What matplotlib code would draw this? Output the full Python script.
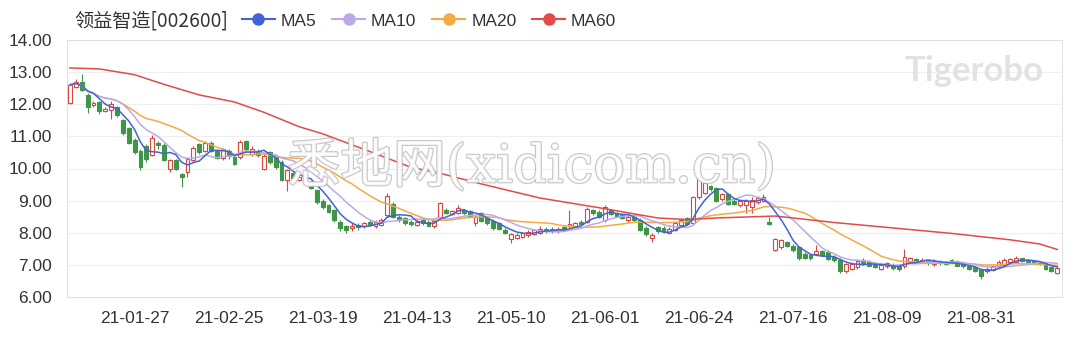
import matplotlib
matplotlib.use("Agg")
import matplotlib.pyplot as plt
import matplotlib.patheffects as pe
from matplotlib.lines import Line2D
from matplotlib.patches import Rectangle
import numpy as np
import pandas as pd

# ---------------- data ----------------
opens = [12.05, 12.55, 12.70, 12.30, 11.98, 12.07, 11.80, 11.82, 11.92, 11.50,
         11.25, 10.90, 10.55, 10.70, 10.42, 10.80, 10.72, 9.97, 10.25, 9.82,
         9.90, 10.25, 10.75, 10.55, 10.80, 10.55, 10.32, 10.55, 10.35, 10.35,
         10.85, 10.45, 10.55, 10.00, 10.50, 10.40, 10.20, 9.65, 9.85, 9.65,
         9.80, 9.58, 9.33, 9.00, 8.85, 8.70, 8.33, 8.20, 8.15, 8.25,
         8.20, 8.35, 8.20, 8.25, 8.55, 8.90, 8.50, 8.45, 8.35, 8.25,
         8.40, 8.35, 8.20, 8.50, 8.72, 8.58, 8.62, 8.72, 8.68, 8.30,
         8.60, 8.45, 8.38, 8.30, 8.10, 7.82, 7.85, 7.88, 7.92, 7.95,
         8.00, 8.12, 8.12, 8.05, 8.18, 8.20, 8.22, 8.35, 8.35, 8.70,
         8.65, 8.40, 8.70, 8.62, 8.55, 8.40, 8.48, 8.40, 8.15, 7.85,
         8.18, 8.15, 8.00, 8.10, 8.25, 8.45, 8.30, 9.10, 9.25, 9.45,
         9.38, 9.05, 9.20, 9.00, 8.85, 8.85, 8.80, 8.95, 9.00, 8.32,
         7.46, 7.55, 7.70, 7.60, 7.55, 7.35, 7.30, 7.35, 7.42, 7.40,
         7.25, 7.15, 6.82, 6.88, 6.92, 7.15, 7.10, 7.05, 6.88, 6.95,
         7.00, 6.98, 6.95, 7.08, 7.18, 7.08, 7.12, 7.02, 7.10, 7.08,
         7.15, 7.10, 7.02, 6.95, 6.92, 6.88, 6.80, 6.85, 6.95, 7.00,
         7.08, 7.10, 7.20, 7.15, 7.12, 7.10, 7.05, 6.92, 6.75]
closes = [12.60, 12.70, 12.45, 11.90, 12.05, 11.78, 11.85, 12.00, 11.65, 11.10,
          10.80, 10.52, 10.05, 10.30, 10.95, 10.72, 10.28, 10.25, 9.97, 9.75,
          10.30, 10.65, 10.50, 10.80, 10.55, 10.32, 10.60, 10.38, 10.15, 10.82,
          10.60, 10.60, 10.42, 10.40, 10.20, 10.05, 9.65, 9.95, 9.70, 9.75,
          9.60, 9.40, 8.95, 8.80, 8.65, 8.40, 8.15, 8.10, 8.22, 8.18,
          8.30, 8.25, 8.35, 8.40, 9.15, 8.50, 8.40, 8.30, 8.28, 8.32,
          8.30, 8.22, 8.38, 8.92, 8.62, 8.68, 8.78, 8.60, 8.52, 8.50,
          8.38, 8.30, 8.15, 8.12, 7.98, 7.95, 7.92, 7.98, 8.03, 8.08,
          8.12, 8.05, 8.05, 8.12, 8.10, 8.28, 8.30, 8.28, 8.75, 8.60,
          8.50, 8.80, 8.58, 8.52, 8.45, 8.50, 8.40, 8.10, 7.95, 7.92,
          8.05, 8.05, 8.12, 8.30, 8.40, 8.28, 9.10, 9.72, 9.55, 9.35,
          9.00, 9.20, 8.90, 8.90, 9.00, 9.00, 9.02, 9.07, 9.12, 8.28,
          7.80, 7.78, 7.58, 7.45, 7.20, 7.22, 7.20, 7.42, 7.32, 7.18,
          7.15, 6.80, 7.02, 7.02, 7.12, 7.05, 6.98, 6.92, 7.00, 7.05,
          6.90, 6.88, 7.25, 7.20, 7.12, 7.15, 7.05, 7.12, 7.05, 7.02,
          7.08, 6.98, 6.95, 6.88, 6.82, 6.65, 6.88, 6.95, 7.10, 7.15,
          7.18, 7.20, 7.12, 7.10, 7.05, 7.05, 6.88, 6.80, 6.90]
highs = [12.65, 12.80, 12.95, 12.35, 12.10, 12.10, 11.90, 12.10, 11.95, 11.55,
         11.30, 10.95, 10.60, 10.75, 11.05, 10.85, 10.78, 10.30, 10.30, 9.85,
         10.35, 10.70, 10.80, 10.85, 10.85, 10.60, 10.65, 10.60, 10.40, 10.90,
         10.90, 10.70, 10.60, 10.45, 10.55, 10.45, 10.25, 10.00, 9.90, 9.80,
         9.85, 9.62, 9.35, 9.05, 8.90, 8.75, 8.40, 8.25, 8.30, 8.30,
         8.35, 8.40, 8.40, 8.45, 9.25, 8.95, 8.55, 8.50, 8.40, 8.40,
         8.45, 8.40, 8.42, 8.95, 8.78, 8.72, 8.85, 8.75, 8.72, 8.55,
         8.65, 8.50, 8.42, 8.35, 8.15, 8.00, 7.98, 8.02, 8.08, 8.12,
         8.20, 8.18, 8.18, 8.18, 8.22, 8.72, 8.35, 8.40, 8.80, 8.75,
         8.70, 8.85, 8.75, 8.66, 8.60, 8.55, 8.52, 8.45, 8.20, 7.98,
         8.22, 8.20, 8.18, 8.35, 8.45, 8.50, 9.15, 9.80, 9.60, 9.50,
         9.42, 9.25, 9.25, 9.05, 9.05, 9.05, 9.10, 9.15, 9.20, 8.50,
         7.85, 7.82, 7.75, 7.65, 7.60, 7.40, 7.35, 7.62, 7.46, 7.45,
         7.30, 7.20, 7.05, 7.08, 7.18, 7.20, 7.15, 7.10, 7.05, 7.10,
         7.05, 7.02, 7.50, 7.25, 7.22, 7.20, 7.15, 7.18, 7.15, 7.12,
         7.18, 7.15, 7.05, 7.00, 6.95, 6.90, 6.92, 7.00, 7.15, 7.22,
         7.22, 7.28, 7.22, 7.18, 7.15, 7.12, 7.08, 6.95, 6.95]
lows = [12.00, 12.50, 12.40, 11.72, 11.90, 11.70, 11.75, 11.55, 11.60, 11.05,
        10.75, 10.45, 9.95, 10.20, 10.38, 10.60, 10.22, 9.90, 9.95, 9.42,
        9.75, 10.20, 10.45, 10.50, 10.50, 10.30, 10.28, 10.30, 10.10, 10.30,
        10.55, 10.40, 10.35, 9.95, 10.15, 10.00, 9.60, 9.30, 9.65, 9.60,
        9.55, 9.35, 8.90, 8.75, 8.60, 8.35, 8.05, 8.00, 8.05, 8.10,
        8.15, 8.20, 8.15, 8.20, 8.50, 8.45, 8.35, 8.25, 8.20, 8.20,
        8.25, 8.20, 8.15, 8.45, 8.58, 8.55, 8.58, 8.55, 8.50, 8.20,
        8.35, 8.25, 8.10, 8.10, 7.95, 7.68, 7.80, 7.85, 7.88, 7.92,
        7.95, 8.00, 8.00, 8.00, 8.05, 8.15, 8.18, 8.25, 8.30, 8.55,
        8.45, 8.35, 8.55, 8.48, 8.42, 8.35, 8.35, 8.05, 7.90, 7.72,
        8.00, 8.00, 7.95, 8.05, 8.20, 8.25, 8.25, 9.05, 9.20, 9.30,
        8.95, 9.00, 8.85, 8.85, 8.80, 8.60, 8.60, 8.90, 8.95, 8.25,
        7.42, 7.50, 7.55, 7.40, 7.15, 7.18, 7.15, 7.30, 7.28, 7.15,
        7.10, 6.75, 6.75, 6.85, 6.88, 7.00, 6.95, 6.90, 6.85, 6.90,
        6.85, 6.82, 6.90, 7.05, 7.08, 7.05, 7.00, 6.98, 7.00, 7.00,
        7.05, 6.95, 6.90, 6.85, 6.78, 6.55, 6.75, 6.80, 6.90, 6.95,
        7.05, 7.05, 7.10, 7.05, 7.02, 7.00, 6.85, 6.78, 6.72]

# MA60 at these candle indices
ma60_idx = [0, 5, 11, 16, 22, 28, 33, 39, 43, 50, 58, 63, 70, 80, 90, 100,
            105, 110, 120, 125, 130, 140, 150, 160, 165, 168]
ma60_val = [13.13, 13.10, 12.92, 12.62, 12.29, 12.07, 11.75, 11.30, 11.08, 10.60,
            10.04, 9.85, 9.52, 9.08, 8.78, 8.46, 8.41, 8.46, 8.52, 8.42,
            8.32, 8.15, 7.98, 7.78, 7.65, 7.48]

tick_idx = [11, 27, 43, 59, 75, 91, 107, 123, 139, 155]
tick_labels = ["21-01-27", "21-02-25", "21-03-19", "21-04-13", "21-05-10",
               "21-06-01", "21-06-24", "21-07-16", "21-08-09", "21-08-31"]
y_ticks = [6, 7, 8, 9, 10, 11, 12, 13, 14]

title = "领益智造[002600]"
legend_names = ["MA5", "MA10", "MA20", "MA60"]

# ---------------- styling ----------------
RED = "#d9453f"
GREEN = "#3f9647"
MA_COLORS = ["#4162d8", "#bba9ea", "#f1ab45", "#e24b47"]
TXT = "#333333"
LAT = ['Liberation Sans', 'DejaVu Sans']

plt.rcParams['font.family'] = ['Noto Sans CJK SC', 'DejaVu Sans']

W, H = 1080, 337
fig = plt.figure(figsize=(W / 100, H / 100), dpi=100)
ax = fig.add_axes([67 / W, 1 - 297 / H, (1062 - 67) / W, (297 - 40) / H])

n = len(closes)
x = np.arange(n)
body_w = 0.66

for i in range(n):
    o, c, h, l = opens[i], closes[i], highs[i], lows[i]
    up = c >= o
    col = RED if up else GREEN
    lo_b, hi_b = min(o, c), max(o, c)
    if hi_b - lo_b < 0.02:
        hi_b = lo_b + 0.02
    ax.vlines(i, l, lo_b, color=col, lw=0.8, zorder=2)
    ax.vlines(i, hi_b, h, color=col, lw=0.8, zorder=2)
    ax.add_patch(Rectangle((i - body_w / 2, lo_b), body_w, hi_b - lo_b,
                           facecolor=("white" if up else col), edgecolor=col,
                           lw=0.8, zorder=3))

s = pd.Series(closes)
ma5 = s.rolling(5, min_periods=1).mean()
ma10 = s.rolling(10, min_periods=1).mean()
ma20 = s.rolling(20, min_periods=1).mean()
ax.plot(x, ma20, color=MA_COLORS[2], lw=1.1, zorder=4)
ax.plot(x, ma10, color=MA_COLORS[1], lw=1.1, zorder=4)
ax.plot(x, ma5, color=MA_COLORS[0], lw=1.1, zorder=5)
ax.plot(ma60_idx, ma60_val, color=MA_COLORS[3], lw=1.1, zorder=4)

ax.set_xlim(-0.5, n - 0.5 + 0.3)
ax.set_ylim(6, 14)
ax.set_yticks(y_ticks)
ax.set_yticklabels([f"{v:.2f}" for v in y_ticks], fontsize=12.5, color=TXT, family=LAT)
ax.set_xticks(tick_idx)
ax.set_xticklabels(tick_labels, fontsize=12.5, color=TXT, family=LAT)
ax.tick_params(axis='both', length=0)
ax.tick_params(axis='y', pad=11)
ax.tick_params(axis='x', pad=10)
ax.grid(axis='y', color='#efefef', lw=0.8)
ax.set_axisbelow(True)
for sp in ax.spines.values():
    sp.set_color('#e2e2e2')
    sp.set_linewidth(0.8)

# title + legend
fig.text(74 / W, 1 - 21 / H, title, fontsize=13.8, color=TXT, va='center', ha='left')
handles = [Line2D([0], [0], color=c, lw=1.5, marker='o', markersize=8,
                  markerfacecolor=c, markeredgecolor=c) for c in MA_COLORS]
fig.legend(handles, legend_names, loc='center left', bbox_to_anchor=(226 / W, 1 - 21 / H),
           ncol=4, frameon=False, handlelength=1.9, handletextpad=0.35,
           columnspacing=0.9, labelcolor=TXT, prop={'family': LAT, 'size': 12.5})

# watermarks
ax.text(0.981, 0.879, "Tigerobo", transform=ax.transAxes, ha='right', va='center',
        fontsize=25, fontweight='bold', color='#e2e2e2', family=['Lato', 'DejaVu Sans'], zorder=1)
ax.text(0.467, 0.506, "悉地网(xidicom.cn)", transform=ax.transAxes, ha='center', va='center',
        fontsize=38, color='white', alpha=0.85, family=['DejaVu Serif', 'Noto Sans CJK SC'],
        zorder=6, path_effects=[pe.withStroke(linewidth=1.6, foreground='#bdbdbd')])

fig.savefig("out.png", dpi=100, facecolor='white')
